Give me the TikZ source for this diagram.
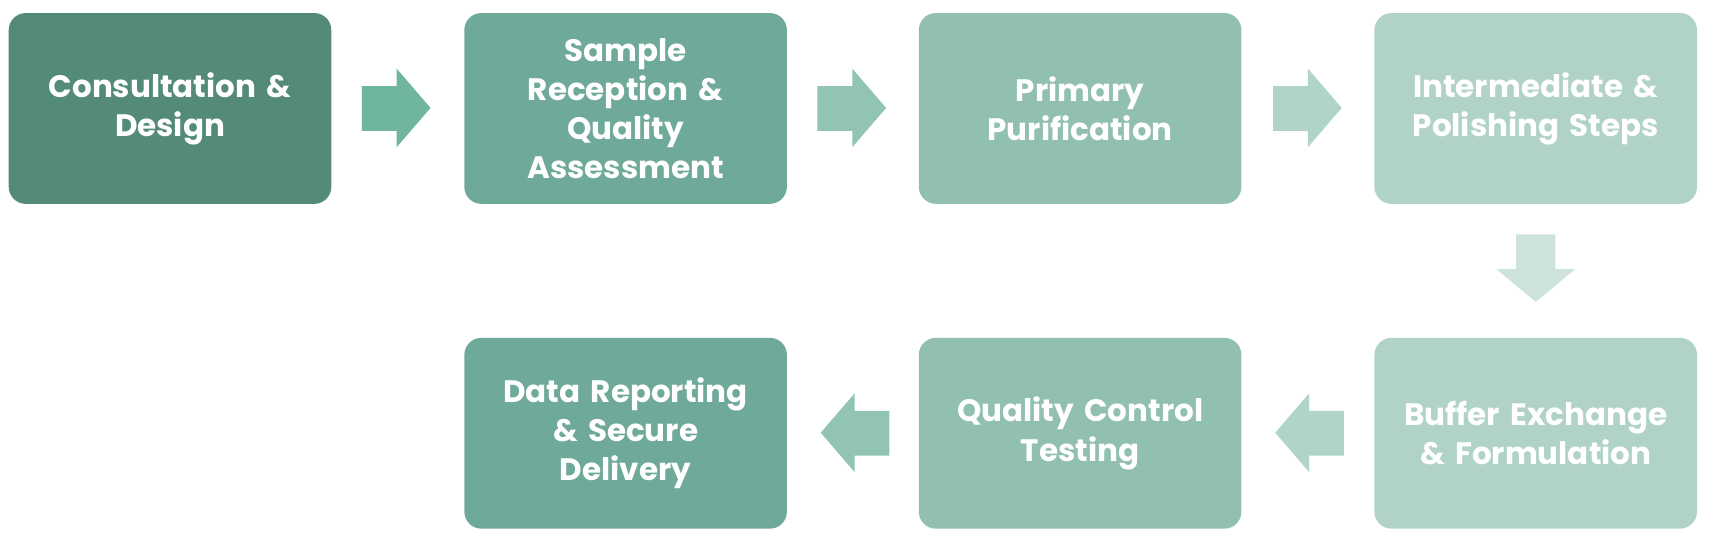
\documentclass[tikz,border=0pt]{standalone}
\usepackage{fontspec}
\setmainfont{Poppins}
\begin{document}
\begin{tikzpicture}[x=0.545pt,y=-0.545pt,
  box/.style={rounded corners=8.5pt,inner sep=0pt,minimum width=161.3pt,minimum height=95.4pt,text width=160pt,align=center,text=white,font=\fontsize{15.5}{19.6}\selectfont\bfseries},
  ]
\useasboundingbox (0,0) rectangle (1568,492.7);
\definecolor{c1}{HTML}{538A79}\definecolor{c2}{HTML}{6FA999}
\definecolor{c3}{HTML}{92C0B0}\definecolor{c4}{HTML}{B1D3C7}
\definecolor{a1}{HTML}{70B59F}\definecolor{a2}{HTML}{92C4B3}
\definecolor{a3}{HTML}{B0D4C8}\definecolor{a4}{HTML}{CDE3DB}
\node[box,fill=c1] (n1) at (156,99.5) {Consultation \&\\Design};
\node[box,fill=c2] (n2) at (574,99.5) {Sample\\Reception \&\\Quality\\Assessment};
\node[box,fill=c3] (n3) at (991,99.5) {Primary\\Purification};
\node[box,fill=c4] (n4) at (1409,99.5) {Intermediate \&\\Polishing Steps};
\node[box,fill=c4] (n5) at (1409,397.5) {Buffer Exchange\\\& Formulation};
\node[box,fill=c3] (n6) at (991,397.5) {Quality Control\\Testing};
\node[box,fill=c2] (n7) at (574,397.5) {Data Reporting\\\& Secure\\Delivery};
\fill[a1] (332,79)--(364,79)--(364,63)--(395,99)--(364,135)--(364,120)--(332,120)--cycle;
\fill[a2] (750,79)--(782,79)--(782,63)--(813,99)--(782,135)--(782,120)--(750,120)--cycle;
\fill[a3] (1168,79)--(1200,79)--(1200,63)--(1231,99)--(1200,135)--(1200,120)--(1168,120)--cycle;
\fill[a4] (1391,215)--(1427,215)--(1427,247)--(1445,247)--(1409,277)--(1373,247)--(1391,247)--cycle;
\fill[a3] (1233,377)--(1201,377)--(1201,361)--(1170,397)--(1201,433)--(1201,418)--(1233,418)--cycle;
\fill[a2] (816,377)--(784,377)--(784,361)--(753,397)--(784,433)--(784,418)--(816,418)--cycle;
\end{tikzpicture}
\end{document}
